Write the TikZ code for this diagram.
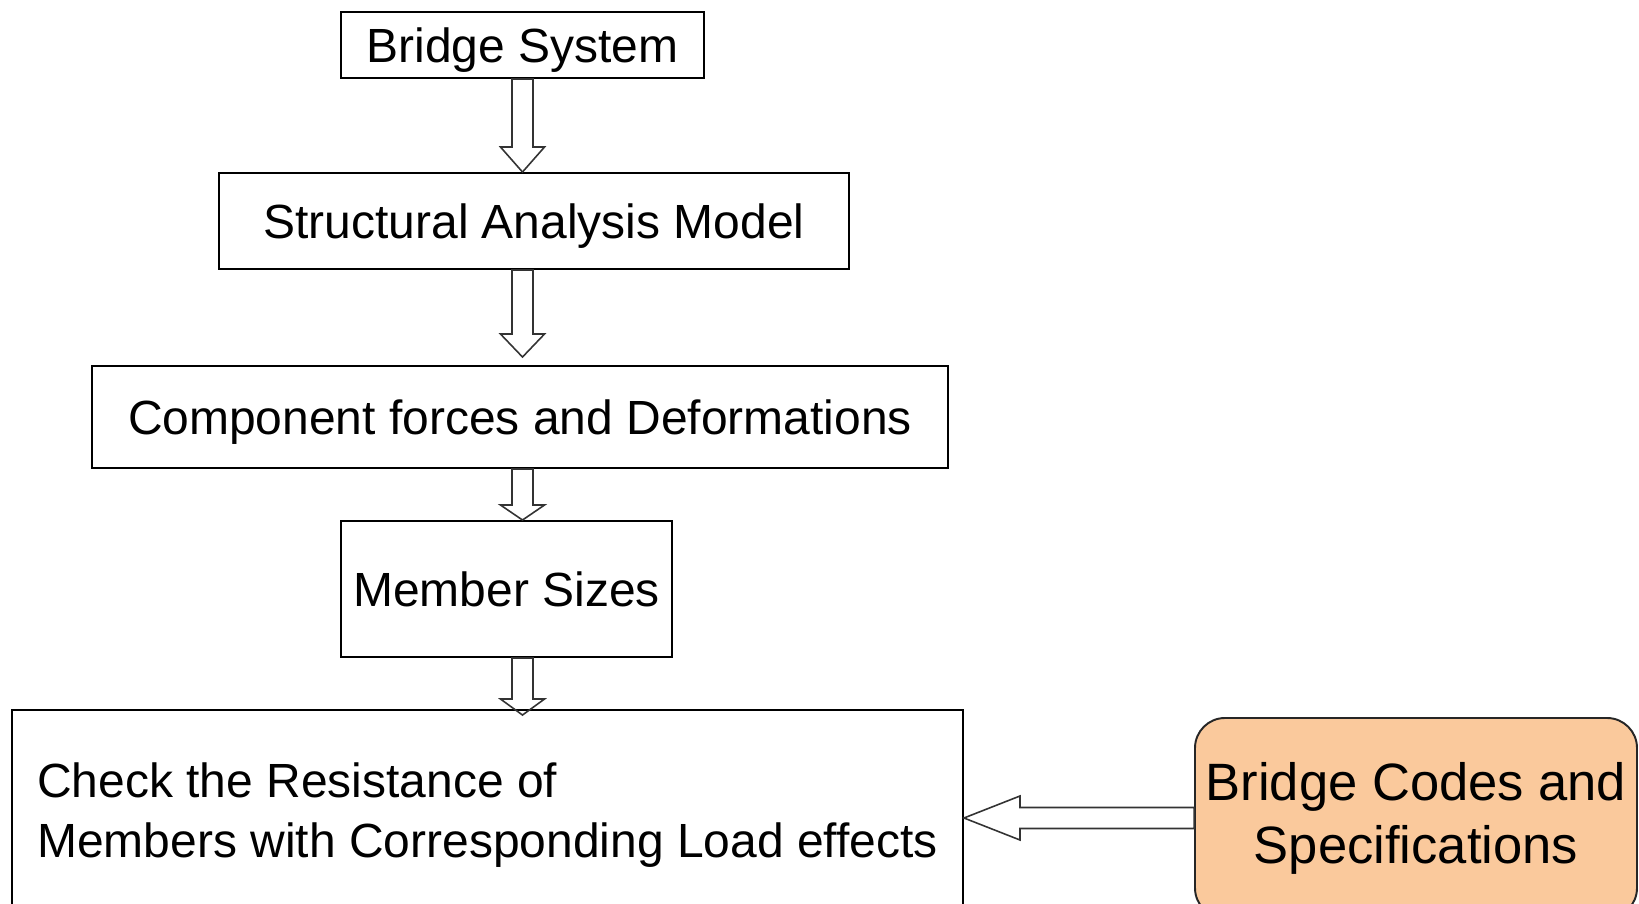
\documentclass[tikz,border=0pt]{standalone}
\usepackage{fontspec}
\setmainfont{Liberation Sans}
\usepackage{xcolor}
\usetikzlibrary{calc}

\definecolor{codefill}{RGB}{250,201,156}

\begin{document}
\begin{tikzpicture}[
    stepbox/.style={draw, line width=1.1pt, inner sep=0pt, text height=0.69cm, text depth=0pt,
        font=\fontsize{27.3}{34.1}\selectfont},
    checkbox/.style={draw, line width=1.1pt, inner sep=0pt, align=left,
        font=\fontsize{27.3}{34.1}\selectfont},
    codebox/.style={draw=black!85, line width=1.1pt, fill=codefill, rounded corners=0.6cm,
        inner sep=0pt, align=center, font=\fontsize{29.9}{35.9}\selectfont},
    hollow/.style={draw=black!80, line width=0.9pt, to path={
        ($(\tikztotarget)!#1!(\tikztostart)$) coordinate (hb)
        ($(\tikztostart)!0.21cm!90:(\tikztotarget)$) -- ($(hb)!0.21cm!90:(\tikztotarget)$)
        -- ($(hb)!0.44cm!90:(\tikztotarget)$) -- (\tikztotarget)
        -- ($(hb)!0.44cm!-90:(\tikztotarget)$) -- ($(hb)!0.21cm!-90:(\tikztotarget)$)
        -- ($(\tikztostart)!0.21cm!-90:(\tikztotarget)$) -- cycle}},
    hollow/.default=0.5cm
]
    \useasboundingbox (0,0) rectangle (32.78,18.06);
    \clip (0,0) rectangle (32.78,18.06);

    % Flow of steps
    \node[stepbox, minimum width=7.26cm, minimum height=1.32cm] (bs) at (10.45,17.16) {Bridge System};
    \node[stepbox, minimum width=12.6cm, minimum height=1.92cm] (sa) at (10.68,13.64) {Structural Analysis Model};
    \node[stepbox, minimum width=17.12cm, minimum height=2.04cm] (cf) at (10.4,9.72) {Component forces and Deformations};
    \node[stepbox, minimum width=6.62cm, minimum height=2.72cm] (ms) at (10.13,6.28) {Member Sizes};

    % Check box (runs past the bottom edge)
    \node[checkbox, minimum width=19.02cm, minimum height=4.22cm] (chk) at (9.75,1.75)
        {Check the Resistance of\\Members with Corresponding Load effects};

    % Codes box (runs past the bottom edge)
    \node[codebox, minimum width=8.84cm, minimum height=4.0cm] (codes) at (28.32,1.7)
        {Bridge Codes and\\Specifications};

    % Arrow tips
    \coordinate (t1) at (bs.south |- sa.north);
    \coordinate (t2) at ($(bs.south |- cf.north)+(0,0.16)$);
    \coordinate (t3) at (bs.south |- ms.north);
    \coordinate (t4) at ($(bs.south |- chk.north)+(0,-0.12)$);
    \coordinate (t5) at (codes.west -| chk.east);

    % Hollow arrows
    \draw[hollow=0.5cm] (bs.south) to (t1);
    \draw[hollow=0.46cm] (bs.south |- sa.south) to (t2);
    \draw[hollow=0.3cm] (bs.south |- cf.south) to (t3);
    \draw[hollow=0.32cm] (bs.south |- ms.south) to (t4);
    \draw[hollow=1.12cm] (codes.west) to (t5);
\end{tikzpicture}
\end{document}
